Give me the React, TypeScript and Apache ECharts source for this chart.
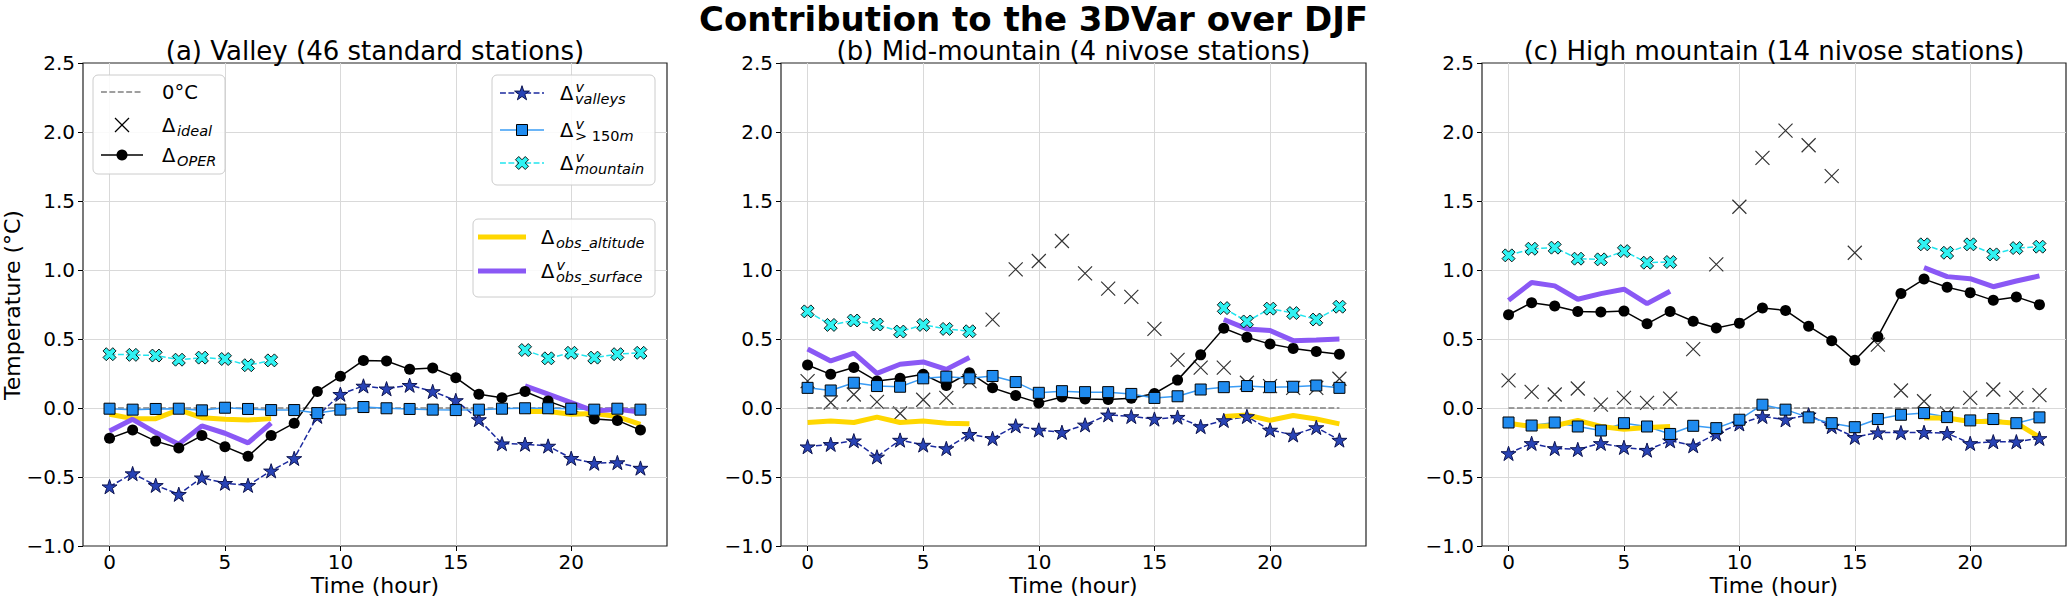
import React, { useEffect, useRef } from "react";
import * as echarts from "echarts";

// ---------------- data ----------------
const HOURS = [0, 1, 2, 3, 4, 5, 6, 7, 8, 9, 10, 11, 12, 13, 14, 15, 16, 17, 18, 19, 20, 21, 22, 23];
const X_TICKS = [0, 5, 10, 15, 20];
const Y_GRID = [-0.5, 0, 0.5, 1, 1.5, 2];
const ZERO_LINE = [0, 0, 0, 0, 0, 0, 0, 0, 0, 0, 0, 0, 0, 0, 0, 0, 0, 0, 0, 0, 0, 0, 0, 0];

const MAIN_TITLE = "Contribution to the 3DVar over DJF";
const PANEL_TITLES = [
  "(a) Valley (46 standard stations)",
  "(b) Mid-mountain (4 nivose stations)",
  "(c) High mountain (14 nivose stations)",
];
const X_LABEL = "Time (hour)";
const Y_LABEL = "Temperature (°C)";

// (a) Valley
const A_OPER = [-0.22, -0.16, -0.24, -0.29, -0.2, -0.28, -0.35, -0.2, -0.11, 0.12, 0.23, 0.345, 0.34, 0.28, 0.29, 0.22, 0.1, 0.075, 0.12, 0.05, -0.01, -0.08, -0.09, -0.16];
const A_VALLEYS = [-0.57, -0.475, -0.56, -0.625, -0.505, -0.545, -0.56, -0.455, -0.365, -0.06, 0.1, 0.16, 0.14, 0.165, 0.12, 0.055, -0.083, -0.258, -0.262, -0.275, -0.364, -0.4, -0.395, -0.435];
const A_ABOVE150 = [-0.005, -0.012, -0.007, -0.005, -0.017, 0.002, -0.007, -0.015, -0.015, -0.037, -0.012, 0.007, -0.002, -0.007, -0.012, -0.015, -0.012, -0.005, -0.002, -0.002, -0.005, -0.012, -0.005, -0.012];
const A_MOUNTAIN = [0.39, 0.385, 0.38, 0.35, 0.365, 0.355, 0.31, 0.345, null, null, null, null, null, null, null, null, null, null, 0.42, 0.36, 0.4, 0.365, 0.39, 0.4];
const A_IDEAL: (number | null)[] = [];
const A_OBS_ALT = [-0.045, -0.077, -0.077, -0.014, -0.07, -0.082, -0.087, -0.077, null, null, null, null, null, null, null, null, null, null, -0.026, -0.026, -0.045, -0.04, -0.062, -0.118];
const A_OBS_SURF = [-0.166, -0.082, -0.178, -0.262, -0.13, -0.183, -0.253, -0.11, null, null, null, null, null, null, null, null, null, null, 0.16, 0.1, 0.039, -0.022, -0.01, -0.03];

// (b) Mid-mountain
const B_OPER = [0.312, 0.244, 0.293, 0.195, 0.215, 0.244, 0.163, 0.256, 0.146, 0.09, 0.037, 0.08, 0.066, 0.061, 0.071, 0.105, 0.202, 0.385, 0.578, 0.512, 0.463, 0.432, 0.41, 0.39];
const B_VALLEYS = [-0.28, -0.263, -0.237, -0.354, -0.232, -0.268, -0.293, -0.19, -0.22, -0.129, -0.159, -0.176, -0.122, -0.049, -0.061, -0.08, -0.066, -0.134, -0.09, -0.061, -0.159, -0.195, -0.141, -0.232];
const B_ABOVE150 = [0.146, 0.127, 0.183, 0.159, 0.154, 0.215, 0.227, 0.215, 0.232, 0.188, 0.11, 0.122, 0.115, 0.115, 0.102, 0.073, 0.085, 0.134, 0.151, 0.159, 0.151, 0.154, 0.163, 0.146];
const B_MOUNTAIN = [0.7, 0.602, 0.634, 0.605, 0.554, 0.602, 0.573, 0.556, null, null, null, null, null, null, null, null, null, null, 0.724, 0.627, 0.72, 0.688, 0.641, 0.734];
const B_IDEAL = [0.195, 0.04, 0.098, 0.044, -0.04, 0.06, 0.073, 0.195, 0.64, 1.005, 1.065, 1.21, 0.976, 0.865, 0.805, 0.573, 0.349, 0.293, 0.293, 0.183, 0.159, 0.146, 0.146, 0.212];
const B_OBS_ALT = [-0.105, -0.095, -0.105, -0.066, -0.105, -0.095, -0.11, -0.115, null, null, null, null, null, null, null, null, null, null, -0.061, -0.051, -0.09, -0.054, -0.08, -0.115];
const B_OBS_SURF = [0.427, 0.341, 0.398, 0.251, 0.317, 0.334, 0.28, 0.366, null, null, null, null, null, null, null, null, null, null, 0.641, 0.573, 0.561, 0.488, 0.493, 0.5];

// (c) High mountain
const C_OPER = [0.676, 0.763, 0.739, 0.7, 0.695, 0.702, 0.61, 0.7, 0.629, 0.58, 0.615, 0.724, 0.707, 0.593, 0.488, 0.346, 0.517, 0.829, 0.934, 0.875, 0.836, 0.78, 0.805, 0.749];
const C_VALLEYS = [-0.329, -0.256, -0.293, -0.3, -0.256, -0.285, -0.305, -0.237, -0.273, -0.188, -0.115, -0.061, -0.085, -0.049, -0.134, -0.212, -0.178, -0.178, -0.176, -0.183, -0.256, -0.244, -0.244, -0.22];
const C_ABOVE150 = [-0.105, -0.127, -0.105, -0.134, -0.163, -0.11, -0.134, -0.188, -0.129, -0.146, -0.085, 0.024, -0.012, -0.068, -0.11, -0.139, -0.08, -0.049, -0.037, -0.066, -0.09, -0.08, -0.11, -0.068];
const C_MOUNTAIN = [1.106, 1.154, 1.162, 1.082, 1.077, 1.137, 1.053, 1.058, null, null, null, null, null, null, null, null, null, null, 1.186, 1.125, 1.186, 1.113, 1.159, 1.169];
const C_IDEAL = [0.2, 0.117, 0.098, 0.141, 0.024, 0.073, 0.037, 0.068, 0.427, 1.041, 1.458, 1.813, 2.01, 1.904, 1.68, 1.125, 0.459, 0.127, 0.049, -0.04, 0.073, 0.134, 0.073, 0.093];
const C_OBS_ALT = [-0.11, -0.134, -0.129, -0.09, -0.134, -0.154, -0.141, -0.134, null, null, null, null, null, null, null, null, null, null, -0.073, -0.073, -0.098, -0.098, -0.11, -0.212];
const C_OBS_SURF = [0.78, 0.91, 0.885, 0.788, 0.829, 0.861, 0.756, 0.846, null, null, null, null, null, null, null, null, null, null, 1.017, 0.952, 0.937, 0.879, 0.92, 0.957];

// ---------------- styles ----------------
const FONT = '"DejaVu Sans", sans-serif';
const C_ZERO = "#808080";
const C_NAVY_LINE = "#1b2a9e";
const C_STAR_FILL = "#2843b5";
const C_STAR_EDGE = "#0d1450";
const C_BLUE_LINE = "#3a9cf5";
const C_BLUE_FILL = "#1f8bef";
const C_CYAN_LINE = "#22e5ee";
const C_CYAN_FILL = "#2ff2f2";
const C_GOLD = "#ffd700";
const C_PURPLE = "#8a58f5";
const C_GRID = "#d9d9d9";
const DASH = [5.9, 2.5];

const STAR = "path://M50,0L61.23,34.55L97.55,34.55L68.16,55.9L79.39,90.45L50,69.1L20.61,90.45L31.84,55.9L2.45,34.55L38.77,34.55Z";
const XFILL = "path://M75,0L50,25L25,0L0,25L25,50L0,75L25,100L50,75L75,100L100,75L75,50L100,25Z";
const XTHIN = "path://M0,0L100,100M100,0L0,100";

const GRIDS = [
  { left: 83, width: 584 },
  { left: 781, width: 585 },
  { left: 1482, width: 584 },
];
const TOP = 63;
const HEIGHT = 483;

const PANELS = [
  { oper: A_OPER, valleys: A_VALLEYS, above: A_ABOVE150, mountain: A_MOUNTAIN, ideal: A_IDEAL, alt: A_OBS_ALT, surf: A_OBS_SURF },
  { oper: B_OPER, valleys: B_VALLEYS, above: B_ABOVE150, mountain: B_MOUNTAIN, ideal: B_IDEAL, alt: B_OBS_ALT, surf: B_OBS_SURF },
  { oper: C_OPER, valleys: C_VALLEYS, above: C_ABOVE150, mountain: C_MOUNTAIN, ideal: C_IDEAL, alt: C_OBS_ALT, surf: C_OBS_SURF },
];

const toXY = (arr: (number | null)[]) =>
  HOURS.map((h, i) => [h, arr[i] == null ? "-" : arr[i]]);

function panelSeries(p: any, i: number) {
  const common = { xAxisIndex: i, yAxisIndex: i, silent: true, emphasis: { disabled: true } };
  return [
    {
      ...common,
      type: "line",
      name: "0°C",
      data: toXY(ZERO_LINE),
      symbol: "none",
      lineStyle: { color: C_ZERO, width: 1.5, type: DASH },
      markLine: {
        silent: true,
        z: 1,
        symbol: ["none", "none"],
        label: { show: false },
        emphasis: { disabled: true },
        lineStyle: { color: C_GRID, width: 1, type: "solid" },
        data: [...X_TICKS.map((v) => ({ xAxis: v })), ...Y_GRID.map((v) => ({ yAxis: v }))],
      },
    },
    {
      ...common,
      type: "line",
      name: "OPER",
      data: toXY(p.oper),
      symbol: "circle",
      symbolSize: 11,
      lineStyle: { color: "#000", width: 1.5 },
      itemStyle: { color: "#000" },
    },
    {
      ...common,
      type: "line",
      name: "valleys",
      data: toXY(p.valleys),
      symbol: STAR,
      symbolSize: 15,
      symbolKeepAspect: true,
      lineStyle: { color: C_NAVY_LINE, width: 1.5, type: DASH },
      itemStyle: { color: C_STAR_FILL, borderColor: C_STAR_EDGE, borderWidth: 1 },
    },
    {
      ...common,
      type: "line",
      name: "above150",
      data: toXY(p.above),
      symbol: "rect",
      symbolSize: 11,
      lineStyle: { color: C_BLUE_LINE, width: 1.5 },
      itemStyle: { color: C_BLUE_FILL, borderColor: "#000", borderWidth: 1 },
    },
    {
      ...common,
      type: "line",
      name: "mountain",
      data: toXY(p.mountain),
      symbol: XFILL,
      symbolSize: 13,
      lineStyle: { color: C_CYAN_LINE, width: 1.5, type: DASH },
      itemStyle: { color: C_CYAN_FILL, borderColor: "#000", borderWidth: 0.9 },
    },
    {
      ...common,
      type: "scatter",
      name: "ideal",
      data: toXY(p.ideal),
      symbol: XTHIN,
      symbolSize: 14,
      itemStyle: { color: "rgba(0,0,0,0)", borderColor: "#000", borderWidth: 1.2 },
    },
    {
      ...common,
      type: "line",
      name: "obs_altitude",
      data: toXY(p.alt),
      symbol: "none",
      lineStyle: { color: C_GOLD, width: 5 },
    },
    {
      ...common,
      type: "line",
      name: "obs_surface",
      data: toXY(p.surf),
      symbol: "none",
      lineStyle: { color: C_PURPLE, width: 5 },
    },
  ];
}

// ---------------- legend helpers (graphic) ----------------
function txt(x: number, y: number, text: string, size: number, extra: any = {}) {
  return {
    type: "text",
    x,
    y,
    z: 100,
    silent: true,
    style: {
      text,
      fill: "#000",
      fontFamily: FONT,
      fontSize: size,
      align: "left",
      verticalAlign: "middle",
      ...extra,
    },
  };
}

function mathLabel(x: number, y: number, sub: string, sup?: string, rich?: boolean) {
  const els: any[] = [txt(x, y, "Δ", 19.5)];
  if (rich) {
    els.push({
      type: "text",
      x: x + 15,
      y: y + 6,
      z: 100,
      silent: true,
      style: {
        text: sub,
        fill: "#000",
        align: "left",
        verticalAlign: "middle",
        fontFamily: FONT,
        fontSize: 14.5,
        rich: {
          r: { fontFamily: FONT, fontSize: 14.5, fontStyle: "normal", fill: "#000" },
          i: { fontFamily: FONT, fontSize: 14.5, fontStyle: "italic", fill: "#000" },
        },
      },
    });
  } else {
    els.push(txt(x + 15, y + 6, sub, 14.5, { fontStyle: "italic" }));
  }
  if (sup) els.push(txt(x + 15.5, y - 6.5, sup, 14.5, { fontStyle: "italic" }));
  return els;
}

function frame(x: number, y: number, w: number, h: number) {
  return {
    type: "rect",
    z: 99,
    silent: true,
    shape: { x, y, width: w, height: h, r: 5 },
    style: { fill: "rgba(255,255,255,0.85)", stroke: "#cccccc", lineWidth: 1 },
  };
}

function hline(x1: number, x2: number, y: number, color: string, width: number, dash?: number[]) {
  return {
    type: "line",
    z: 100,
    silent: true,
    shape: { x1, y1: y, x2, y2: y },
    style: { stroke: color, lineWidth: width, lineDash: dash || null },
  };
}

const STAR_UNIT = [[0, -1], [0.2245, -0.309], [0.9511, -0.309], [0.3633, 0.118], [0.5878, 0.809], [0, 0.382], [-0.5878, 0.809], [-0.3633, 0.118], [-0.9511, -0.309], [-0.2245, -0.309]];
const XFILL_UNIT = [[0.5, -1], [0, -0.5], [-0.5, -1], [-1, -0.5], [-0.5, 0], [-1, 0.5], [-0.5, 1], [0, 0.5], [0.5, 1], [1, 0.5], [0.5, 0], [1, -0.5]];

function polyIcon(unit: number[][], cx: number, cy: number, s: number, fill: string, stroke: string, lw: number) {
  return {
    type: "polygon",
    z: 101,
    silent: true,
    shape: { points: unit.map(([a, b]) => [cx + a * s, cy + b * s]) },
    style: { fill, stroke, lineWidth: lw },
  };
}

function buildGraphic() {
  const g: any[] = [];
  // titles
  g.push({
    type: "text",
    x: 1033.5,
    y: 19,
    silent: true,
    style: { text: MAIN_TITLE, fill: "#000", fontFamily: FONT, fontSize: 34, fontWeight: "bold", align: "center", verticalAlign: "middle" },
  });
  GRIDS.forEach((gr, i) => {
    const cx = gr.left + gr.width / 2;
    g.push({
      type: "text",
      x: cx,
      y: 50.5,
      silent: true,
      style: { text: PANEL_TITLES[i], fill: "#000", fontFamily: FONT, fontSize: 26, align: "center", verticalAlign: "middle" },
    });
    g.push({
      type: "text",
      x: cx,
      y: 585,
      silent: true,
      style: { text: X_LABEL, fill: "#000", fontFamily: FONT, fontSize: 22, align: "center", verticalAlign: "middle" },
    });
  });
  g.push({
    type: "text",
    x: 12,
    y: 305,
    rotation: Math.PI / 2,
    silent: true,
    style: { text: Y_LABEL, fill: "#000", fontFamily: FONT, fontSize: 22, align: "center", verticalAlign: "middle" },
  });

  // legend 1 (upper left)
  g.push(frame(93, 75, 132, 99));
  g.push(hline(101, 143, 92, C_ZERO, 1.5, DASH));
  g.push(txt(162, 92, "0°C", 19.5));
  g.push({ type: "line", z: 100, silent: true, shape: { x1: 115, y1: 118, x2: 129, y2: 132 }, style: { stroke: "#000", lineWidth: 1.2 } });
  g.push({ type: "line", z: 100, silent: true, shape: { x1: 129, y1: 118, x2: 115, y2: 132 }, style: { stroke: "#000", lineWidth: 1.2 } });
  g.push(...mathLabel(162, 125, "ideal"));
  g.push(hline(101, 143, 155, "#000", 1.5));
  g.push({ type: "circle", z: 101, silent: true, shape: { cx: 122, cy: 155, r: 5.5 }, style: { fill: "#000" } });
  g.push(...mathLabel(162, 155, "OPER"));

  // legend 2 (upper right)
  g.push(frame(492, 75, 163, 110));
  g.push(hline(500, 544, 93, C_NAVY_LINE, 1.5, DASH));
  g.push(polyIcon(STAR_UNIT, 522, 93.5, 7.8, C_STAR_FILL, C_STAR_EDGE, 1));
  g.push(...mathLabel(560, 93, "valleys", "v"));
  g.push(hline(500, 544, 130, C_BLUE_LINE, 1.5));
  g.push({ type: "rect", z: 101, silent: true, shape: { x: 516.5, y: 124.5, width: 11, height: 11 }, style: { fill: C_BLUE_FILL, stroke: "#000", lineWidth: 1 } });
  g.push(...mathLabel(560, 130, "{r|> 150}{i|m}", "v", true));
  g.push(hline(500, 544, 163, C_CYAN_LINE, 1.5, DASH));
  g.push(polyIcon(XFILL_UNIT, 522, 163, 6.5, C_CYAN_FILL, "#000", 0.9));
  g.push(...mathLabel(560, 163, "mountain", "v"));

  // legend 3 (middle right)
  g.push(frame(473, 219, 182, 78));
  g.push(hline(478, 526, 237, C_GOLD, 5));
  g.push(...mathLabel(541, 237, "obs_altitude"));
  g.push(hline(478, 526, 271, C_PURPLE, 5));
  g.push(...mathLabel(541, 271, "obs_surface", "v"));
  return g;
}

function buildOption() {
  const grid = GRIDS.map((g) => ({
    left: g.left,
    top: TOP,
    width: g.width,
    height: HEIGHT,
    show: true,
    borderColor: "#222",
    borderWidth: 1.2,
    backgroundColor: "transparent",
    containLabel: false,
  }));
  const xAxis = GRIDS.map((_, i) => ({
    type: "value",
    gridIndex: i,
    min: -1.15,
    max: 24.15,
    axisLine: { show: false, onZero: false },
    axisTick: { show: true, customValues: X_TICKS, length: 5, lineStyle: { color: "#000", width: 1 } },
    axisLabel: { show: true, customValues: X_TICKS, color: "#000", fontFamily: FONT, fontSize: 20, margin: 6 },
    splitLine: { show: false },
  }));
  const yAxis = GRIDS.map((_, i) => ({
    type: "value",
    gridIndex: i,
    min: -1,
    max: 2.5,
    interval: 0.5,
    axisLine: { show: false, onZero: false },
    axisTick: { show: true, length: 5, lineStyle: { color: "#000", width: 1 } },
    axisLabel: {
      color: "#000",
      fontFamily: FONT,
      fontSize: 20,
      margin: 8,
      formatter: (v: number) => v.toFixed(1).replace("-", "\u2212"),
    },
    splitLine: { show: false },
  }));
  const series: any[] = [];
  PANELS.forEach((p, i) => series.push(...panelSeries(p, i)));
  return {
    animation: false,
    backgroundColor: "#fff",
    textStyle: { fontFamily: FONT },
    grid,
    xAxis,
    yAxis,
    series,
    graphic: buildGraphic(),
  };
}

export default function App() {
  const ref = useRef<HTMLDivElement>(null);
  useEffect(() => {
    if (!ref.current) return;
    const chart = echarts.init(ref.current, null, { renderer: "svg" });
    chart.setOption(buildOption() as any);
    return () => chart.dispose();
  }, []);
  return (
    <div
      ref={ref}
      style={{ position: "absolute", left: 0, top: 0, width: 2067, height: 598, background: "#fff" }}
    />
  );
}
